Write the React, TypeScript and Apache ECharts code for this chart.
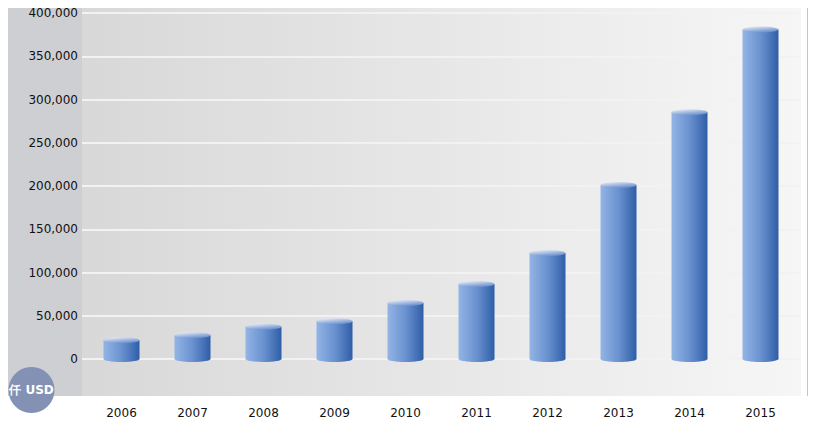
import React, { useEffect, useRef } from "react";
import * as echarts from "echarts";

const years = ["2006", "2007", "2008", "2009", "2010", "2011", "2012", "2013", "2014", "2015"];
const values = [21600, 27400, 37300, 43500, 64700, 86600, 122400, 201300, 285200, 381000];
const yTicks = { min: 0, max: 400000, interval: 50000 };
const unitLabel = "仟 USD";

export default function App() {
  const ref = useRef<HTMLDivElement>(null);
  useEffect(() => {
    if (!ref.current) return;
    const chart = echarts.init(ref.current, null, { renderer: "svg" });
    const font = "DejaVu Sans, Verdana, sans-serif";
    const bodyGrad = () =>
      new echarts.graphic.LinearGradient(0, 0, 1, 0, [
        { offset: 0, color: "#93b4e5" },
        { offset: 0.5, color: "#6a92d0" },
        { offset: 1, color: "#2f5ea7" },
      ]);
    const capGrad = () =>
      new echarts.graphic.LinearGradient(0, 0, 0.5, 1, [
        { offset: 0, color: "#f0f4fb" },
        { offset: 1, color: "#6d91cd" },
      ]);
    chart.setOption({
      animation: false,
      graphic: [
        { type: "rect", z: -10, shape: { x: 2, y: 5, width: 80, height: 391 }, style: { fill: "#cecfd2" }, silent: true },
        {
          type: "rect",
          z: -10,
          shape: { x: 82, y: 5, width: 719, height: 391 },
          style: {
            fill: new echarts.graphic.LinearGradient(0, 0, 1, 0, [
              { offset: 0, color: "#d8d8d8" },
              { offset: 1, color: "#f6f6f6" },
            ]),
          },
          silent: true,
        },
        { type: "line", z: -10, shape: { x1: 807.5, y1: 0, x2: 807.5, y2: 396 }, style: { stroke: "#c4c4c4", lineWidth: 1 }, silent: true },
        { type: "circle", z: 100, shape: { cx: 31.5, cy: 390, r: 23 }, style: { fill: "#8391b4" } },
        {
          type: "text",
          z: 101,
          x: 31.5,
          y: 390,
          style: {
            text: unitLabel,
            fill: "#ffffff",
            font: `bold 12px ${font}`,
            align: "center",
            verticalAlign: "middle",
          },
        },
      ],
      grid: [
        { left: 82, right: 19, top: 13, height: 346 },
        { left: 86, right: 24, top: 13, height: 346 },
      ],
      xAxis: [
        { type: "value", gridIndex: 0, show: false, min: 0, max: 1 },
        {
          type: "category",
          gridIndex: 1,
          data: years,
          axisLine: { show: false },
          axisTick: { show: false },
          axisLabel: { margin: 48, color: "#111", fontSize: 12, fontFamily: font },
          splitLine: { show: false },
        },
      ],
      yAxis: [
        {
          type: "value",
          gridIndex: 0,
          min: yTicks.min,
          max: yTicks.max,
          interval: yTicks.interval,
          axisLine: { show: false },
          axisTick: { show: false },
          axisLabel: {
            margin: 4,
            color: "#111",
            fontSize: 12,
            fontFamily: font,
            formatter: (v: number) => v.toLocaleString("en-US"),
          },
          splitLine: { lineStyle: { color: "#f2f2f2", width: 2 } },
        },
        { type: "value", gridIndex: 1, min: yTicks.min, max: yTicks.max, show: false },
      ],
      series: [
        {
          type: "custom",
          xAxisIndex: 1,
          yAxisIndex: 1,
          data: values.map((v, i) => [i, v]),
          encode: { x: 0, y: 1 },
          renderItem: (params: any, api: any) => {
            const top = api.coord([api.value(0), api.value(1)]);
            const base = api.coord([api.value(0), 0]);
            const w = 36;
            const ry = 3;
            const cx = top[0];
            return {
              type: "group",
              children: [
                {
                  type: "ellipse",
                  shape: { cx, cy: base[1], rx: w / 2, ry },
                  style: { fill: bodyGrad() },
                },
                {
                  type: "rect",
                  shape: { x: cx - w / 2, y: top[1], width: w, height: base[1] - top[1] },
                  style: { fill: bodyGrad() },
                },
                {
                  type: "ellipse",
                  shape: { cx, cy: top[1], rx: w / 2, ry },
                  style: { fill: capGrad() },
                },
              ],
            };
          },
        },
      ],
    });
    return () => chart.dispose();
  }, []);
  return <div ref={ref} style={{ width: 820, height: 426, marginLeft: -8, marginTop: -8 }} />;
}
